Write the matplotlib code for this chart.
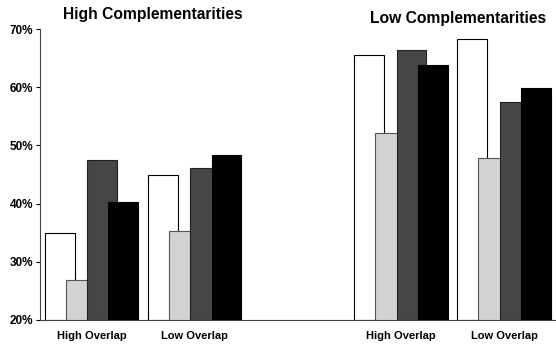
import matplotlib
matplotlib.use("Agg")
import matplotlib.pyplot as plt
import numpy as np
from matplotlib.ticker import FuncFormatter

plt.rcParams['font.family'] = ['Liberation Sans', 'DejaVu Sans']

categories = ["High Overlap", "Low Overlap", "", "High Overlap", "Low Overlap"]
positions = [0, 1, 3, 4]
series1 = [34.9, 44.9, 65.6, 68.3]   # white
series2 = [26.8, 35.3, 52.2, 47.9]   # light gray
series3 = [47.5, 46.1, 66.4, 57.5]   # dark gray
series4 = [40.3, 48.4, 63.8, 59.8]   # black
titles = ["High Complementarities", "Low Complementarities"]
yticks = [20, 30, 40, 50, 60, 70]

fig = plt.figure(figsize=(5.56, 3.48), dpi=100)
ax = fig.add_axes([40/556, 28/348, 515.5/556, 291/348])

step = 0.206
width = 0.29
colors = ["white", "#d2d2d2", "#464646", "black"]
edges = ["black", "#555555", "#222222", "black"]
allseries = [series1, series2, series3, series4]
x = np.array(positions, dtype=float)
for i, (s, c, e) in enumerate(zip(allseries, colors, edges)):
    ax.bar(x + (i - 1.5) * step, np.array(s) - 20, bottom=20, width=width,
           color=c, edgecolor=e, linewidth=0.8, zorder=2 + i)

ax.set_xlim(-0.5, 4.5)
ax.set_ylim(20, 70)
ax.set_yticks(yticks)
ax.yaxis.set_major_formatter(FuncFormatter(lambda v, p: f"{int(v)}%"))
ax.set_xticks(range(len(categories)))
ax.set_xticklabels(categories)
ax.tick_params(axis='x', length=0, pad=8, labelsize=8)
ax.tick_params(axis='y', length=3, width=0.8, pad=2, labelsize=8.5, direction='out')
for lab in ax.get_xticklabels() + ax.get_yticklabels():
    lab.set_fontweight('bold')
for sp in ['top', 'right']:
    ax.spines[sp].set_visible(False)
ax.spines['left'].set_linewidth(0.8)
ax.spines['bottom'].set_linewidth(0.8)
ax.spines['left'].set_color('#444444')
ax.spines['bottom'].set_color('#444444')

fig.text(153/556, 1 - 15/348, titles[0], ha='center', va='center',
         fontsize=11.25, fontweight='bold')
fig.text(458.5/556, 1 - 19/348, titles[1], ha='center', va='center',
         fontsize=11.25, fontweight='bold')

fig.savefig("out.png", dpi=100)
